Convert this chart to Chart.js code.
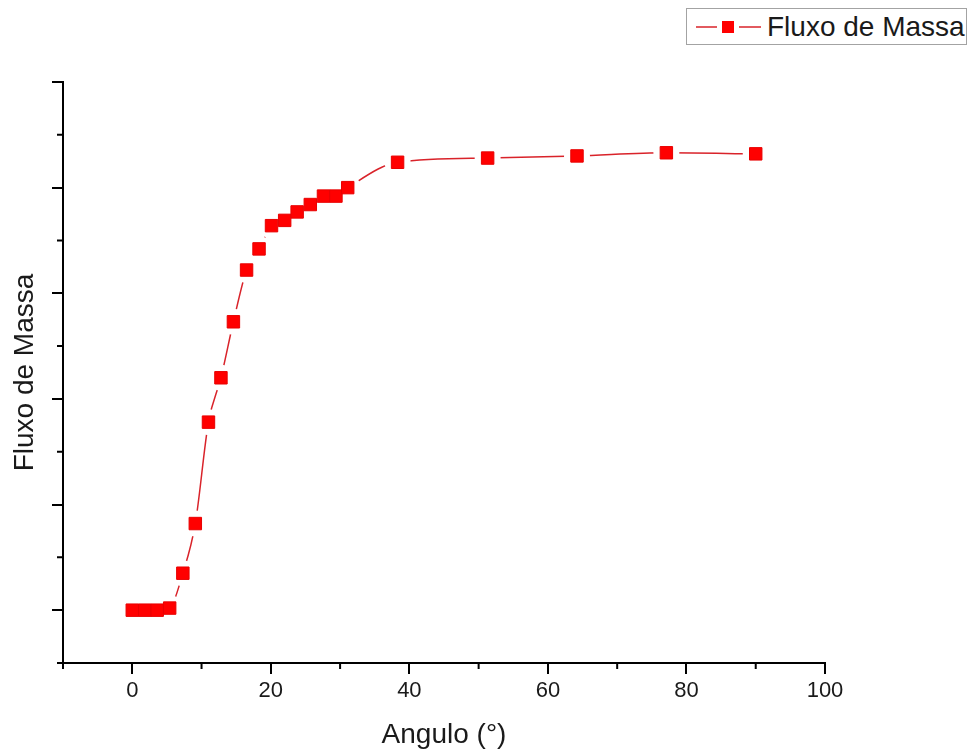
<!DOCTYPE html>
<html>
<head>
<meta charset="utf-8">
<script src="https://cdn.jsdelivr.net/npm/chart.js@4.4.1/dist/chart.umd.min.js"></script>
<style>
  html, body { margin: 0; padding: 0; background: #fff; }
  #wrap { position: relative; width: 974px; height: 753px; }
  #legend {
    position: absolute; left: 686px; top: 8px; width: 279px; height: 35px;
    border: 1px solid #a3a3a3; background: #fff;
    font-family: "Liberation Sans", Arial, sans-serif; font-size: 28px; color: #1a1a1a;
  }
  #legend svg { position: absolute; left: 7px; top: 6px; }
  #legend span { position: absolute; left: 80px; top: 1px; line-height: 33px; }
</style>
</head>
<body>
<div id="wrap">
  <canvas id="chart" width="974" height="753"></canvas>
  <div id="legend">
    <svg width="70" height="24">
      <line x1="2" y1="12" x2="23" y2="12" stroke="#d9232a" stroke-width="1.5"/>
      <line x1="45" y1="12" x2="67" y2="12" stroke="#d9232a" stroke-width="1.5"/>
      <rect x="28" y="6" width="12" height="12" fill="#ff0000"/>
    </svg>
    <span>Fluxo de Massa</span>
  </div>
</div>
<script>
// valores (eixo y sem escala numérica)
const angulos = [0, 1.8, 3.6, 5.4, 7.3, 9.1, 11.0, 12.8, 14.6, 16.5, 18.3, 20.1, 22.0,
                 23.8, 25.7, 27.6, 29.4, 31.1, 38.3, 51.3, 64.2, 77.1, 90.0];
const fluxo   = [0, 0, 0, 0.02, 0.35, 0.82, 1.78, 2.20, 2.73, 3.22, 3.42, 3.64, 3.69,
                 3.77, 3.84, 3.92, 3.92, 4.00, 4.24, 4.28, 4.30, 4.33, 4.32];
const xMajor = [0, 20, 40, 60, 80, 100];
const xMinor = [-10, 10, 30, 50, 70, 90];
const yMajor = [0, 1, 2, 3, 4, 5];
const yMinor = [-0.5, 0.5, 1.5, 2.5, 3.5, 4.5];

const FONT = '"Liberation Sans", Arial, sans-serif';
const INK = '#1a1a1a';
const pts = angulos.map((x, i) => ({ x, y: fluxo[i] }));

// traços menores do eixo
const minorTicks = {
  id: 'minorTicks',
  afterDraw(chart) {
    const { ctx, scales: { x, y } } = chart;
    ctx.save();
    ctx.strokeStyle = '#000';
    ctx.lineWidth = 2;
    ctx.beginPath();
    xMinor.forEach(v => {
      const px = x.getPixelForValue(v);
      ctx.moveTo(px, x.top); ctx.lineTo(px, x.top + 6);
    });
    yMinor.forEach(v => {
      const py = y.getPixelForValue(v);
      ctx.moveTo(y.right, py); ctx.lineTo(y.right - 6, py);
    });
    ctx.stroke();
    ctx.restore();
  }
};

new Chart(document.getElementById('chart'), {
  type: 'line',
  data: {
    datasets: [
      { // marcadores
        data: pts, showLine: false, pointStyle: 'rect', pointRadius: 8.8,
        pointBackgroundColor: '#ff0000', pointBorderColor: '#e80000', pointBorderWidth: 1,
      },
      { // espaço branco em volta dos marcadores
        data: pts, showLine: false, pointStyle: 'circle', pointRadius: 13,
        pointBackgroundColor: '#fff', pointBorderWidth: 0,
      },
      { // curva
        data: pts, pointRadius: 0, borderColor: '#d9232a', borderWidth: 1.5,
        cubicInterpolationMode: 'monotone', fill: false,
      },
    ]
  },
  options: {
    responsive: false, animation: false, devicePixelRatio: 1,
    layout: { padding: { left: 0, top: 82, right: 149, bottom: 0 } },
    plugins: { legend: { display: false }, tooltip: { enabled: false } },
    scales: {
      x: {
        type: 'linear', min: -10, max: 100,
        afterBuildTicks: s => { s.ticks = xMajor.map(v => ({ value: v })); },
        afterFit: s => { s.height = 90; },
        border: { display: true, color: '#000', width: 2 },
        grid: { drawOnChartArea: false, drawTicks: true, tickLength: 11, color: '#000', lineWidth: 2 },
        ticks: { color: INK, font: { family: FONT, size: 22 }, padding: 4, maxRotation: 0 },
        title: { display: true, text: 'Angulo (°)', color: INK,
                 font: { family: FONT, size: 28 }, padding: { top: 0, bottom: 1 } },
      },
      y: {
        type: 'linear', min: -0.5, max: 5,
        afterBuildTicks: s => { s.ticks = yMajor.map(v => ({ value: v })); },
        afterFit: s => { s.width = 63; },
        border: { display: true, color: '#000', width: 2 },
        grid: { drawOnChartArea: false, drawTicks: true, tickLength: 11, color: '#000', lineWidth: 2 },
        ticks: { display: false },
        title: { display: true, text: 'Fluxo de Massa', color: INK,
                 font: { family: FONT, size: 28 }, padding: { top: 8, bottom: 0 } },
      }
    }
  },
  plugins: [minorTicks]
});
</script>
</body>
</html>
